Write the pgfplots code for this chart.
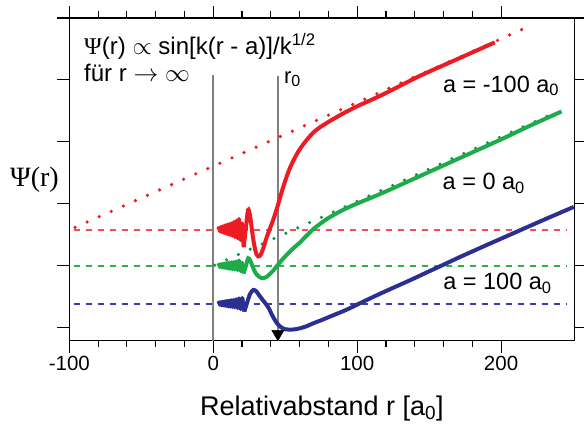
\documentclass[border=0pt]{standalone}
\usepackage{fontspec}
\setmainfont{Liberation Sans}
\newfontfamily\seriffont{Liberation Serif}
\usepackage{pgfplots}
\pgfplotsset{compat=1.18}
\definecolor{cred}{RGB}{237,28,36}
\definecolor{dashred}{RGB}{242,80,85}
\definecolor{cgreen}{RGB}{30,172,75}
\definecolor{dashgreen}{RGB}{40,180,70}
\definecolor{cgreendot}{RGB}{0,150,70}
\definecolor{cblue}{RGB}{43,47,145}
\definecolor{dashblue}{RGB}{60,60,170}
\begin{document}
\begin{tikzpicture}
\begin{axis}[
  scale only axis, width=505.2bp, height=322.7bp,
  xmin=-100, xmax=251, ymin=-0.21, ymax=5,
  xtick={-100,0,100,200}, minor x tick num=4,
  ytick={0,1,2,3,4,5}, yticklabels={},
  tick align=outside, major tick length=12bp, minor tick length=6.5bp,
  axis line style={line width=1.2bp},
  every tick/.style={black, line width=1.1bp},
  xticklabel style={font=\fontsize{20.5bp}{24bp}\selectfont},
  /pgf/number format/assume math mode=true,
  xlabel={Relativabstand r [a\textsubscript{0}]},
  xlabel style={font=\fontsize{27bp}{30bp}\selectfont, at={(axis description cs:0.5,0)}, anchor=base, yshift=-74.3bp},
  clip=false,
]
% baselines
\addplot[dashgreen, line width=1.8bp, dash pattern=on 6bp off 6bp] coordinates {(-97,1.0) (245.6,1.0)};
\addplot[dashred, line width=2bp, dash pattern=on 6bp off 6bp] coordinates {(-97,1.585) (245.6,1.585)};
\addplot[dashblue, line width=2bp, dash pattern=on 6bp off 6bp] coordinates {(-97,0.389) (245.6,0.389)};
% vertical lines
\addplot[gray, line width=1.5bp] coordinates {(0,-0.21) (0,4.08)};
\addplot[gray, line width=1.5bp] coordinates {(44.9,-0.21) (44.9,4.06)};
% asymptotes
\addplot[cred, line width=3.6bp, line cap=round, dash pattern=on 0bp off 13.2bp] coordinates {(-96,1.62) (216,4.83)};
\addplot[cgreendot, line width=3.4bp, line cap=round, dash pattern=on 0bp off 13bp] coordinates {(1,1.01) (240,3.50)};
% red
\addplot[cred, line width=4bp, line join=round] coordinates {
(3.5,1.585) (4.1,1.615) (4.7,1.555) (5.3,1.625) (5.9,1.545) (6.5,1.635) (7.1,1.535) (7.7,1.645) (8.3,1.525) (8.9,1.655) (9.5,1.515) (10.1,1.665) (10.7,1.505) (11.4,1.675) (12.1,1.495) (12.8,1.685) (13.5,1.485) (14.3,1.705) (15.1,1.465) (16.0,1.725) (16.9,1.445) (17.9,1.755) (19.0,1.415) (20.0,1.685) (21.2,1.30)};
\addplot[cred, line width=4bp, smooth, tension=0.5] coordinates {
(21.2,1.30) (22.7,1.62) (24.2,1.90) (25.5,1.82) (27,1.56) (28.5,1.33) (30,1.19) (31.5,1.15) (33,1.18) (35,1.30) (37,1.45) (39.4,1.60) (41.7,1.744) (44.7,1.96) (48.6,2.27) (53.3,2.58) (59,2.84) (64.9,3.03) (70,3.16) (76.4,3.27) (88,3.43) (99.6,3.57) (111,3.69) (122.7,3.82) (143.5,4.065) (170,4.34) (195.6,4.606)};
% green
\addplot[cgreen, line width=4bp, line join=round] coordinates {
(3.5,1.0) (4.1,1.02) (4.7,0.98) (5.3,1.025) (5.9,0.975) (6.5,1.03) (7.1,0.97) (7.7,1.035) (8.3,0.965) (8.9,1.04) (9.5,0.96) (10.1,1.045) (10.7,0.955) (11.4,1.05) (12.1,0.95) (12.8,1.055) (13.5,0.945) (14.3,1.06) (15.1,0.94) (16.0,1.07) (16.9,0.93) (17.9,1.085) (19.0,0.915) (20.0,1.05) (21.1,0.875)};
\addplot[cgreen, line width=4bp, smooth, tension=0.5] coordinates {
(21.1,0.875) (22.7,1.0) (24.3,1.12) (25.8,1.08) (27.5,0.98) (29.5,0.88) (32,0.82) (34.5,0.80) (37,0.82) (39.5,0.87) (42,0.93) (44.7,1.01) (48,1.10) (52,1.20) (56,1.29) (60,1.37) (65,1.49) (70,1.60) (75,1.69) (80,1.77) (90,1.90) (100,2.005) (110,2.10) (120,2.20) (140,2.41) (160,2.62) (180,2.83) (200,3.04) (220,3.26) (242,3.49)};
% blue
\addplot[cblue, line width=4bp, line join=round] coordinates {
(3.5,0.389) (4.1,0.409) (4.7,0.369) (5.3,0.414) (5.9,0.364) (6.5,0.419) (7.1,0.359) (7.7,0.424) (8.3,0.354) (8.9,0.429) (9.5,0.349) (10.1,0.434) (10.7,0.344) (11.4,0.439) (12.1,0.339) (12.8,0.444) (13.5,0.334) (14.3,0.449) (15.1,0.329) (16.0,0.459) (16.9,0.319) (17.9,0.474) (19.0,0.30) (20.2,0.48) (21.6,0.26)};
\addplot[cblue, line width=4bp, smooth, tension=0.5] coordinates {
(21.6,0.26) (23.5,0.40) (25.5,0.54) (27.8,0.61) (30,0.585) (32,0.52) (35,0.43) (38.2,0.33) (41,0.20) (44,0.08) (47,0.01) (50,-0.025) (53,-0.032) (57,-0.025) (60.2,-0.01) (65,0.025) (69.4,0.07) (75,0.12) (81,0.178) (92.6,0.29) (104.2,0.42) (115.7,0.546) (127,0.665) (138.9,0.789) (150,0.91) (162.1,1.04) (171.3,1.14) (190,1.335) (210,1.54) (230,1.745) (250.5,1.95)};
% r0 marker
\addplot[only marks, mark=triangle*, mark size=7bp, mark options={rotate=180, fill=black, draw=black}] coordinates {(44.9,-0.10)};
% texts
\node[anchor=base west, font=\fontsize{24bp}{28bp}\selectfont, inner sep=0pt] at (axis cs:-89.8,4.411) {{\seriffont Ψ}(r) $\propto$ sin[k(r - a)]/k\textsuperscript{1/2}};
\node[anchor=base west, font=\fontsize{24bp}{28bp}\selectfont, inner sep=0pt] at (axis cs:-89.8,3.975) {für r $\rightarrow\infty$};
\node[anchor=base west, font=\fontsize{22bp}{26bp}\selectfont, inner sep=0pt] at (axis cs:49.1,3.95) {r\raisebox{-0.3ex}{\fontsize{16bp}{18bp}\selectfont 0}};
\node[anchor=base west, font=\fontsize{23.5bp}{28bp}\selectfont, inner sep=0pt] at (axis cs:159.5,3.801) {a = -100 a\textsubscript{0}};
\node[anchor=base west, font=\fontsize{23.5bp}{28bp}\selectfont, inner sep=0pt] at (axis cs:159.3,2.234) {a = 0 a\textsubscript{0}};
\node[anchor=base west, font=\fontsize{23.5bp}{28bp}\selectfont, inner sep=0pt] at (axis cs:159.7,0.609) {a = 100 a\textsubscript{0}};
\node[anchor=east, font=\fontsize{28bp}{32bp}\selectfont\seriffont, inner sep=0pt] at (axis cs:-100,2.385) [xshift=-10.3bp] {Ψ(r)};
\end{axis}
\pgfresetboundingbox
\useasboundingbox (-69.3bp,-85.3bp) rectangle (514.7bp,340.7bp);
\end{tikzpicture}
\end{document}
